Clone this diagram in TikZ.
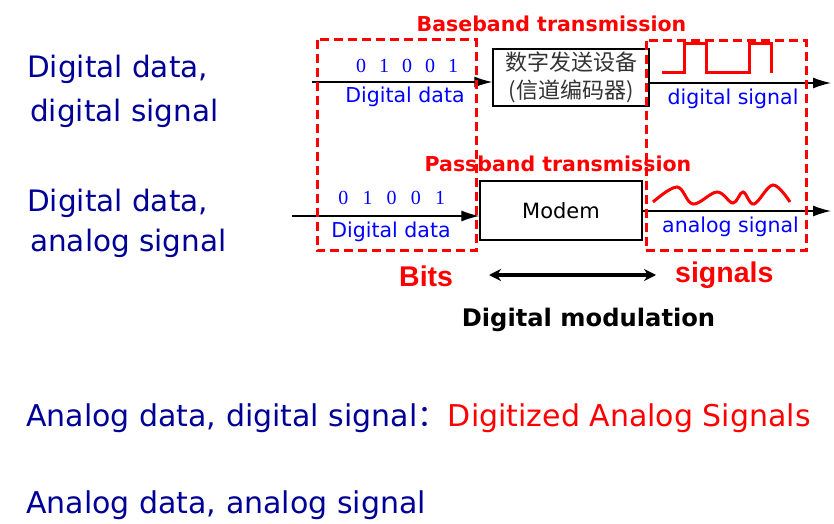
\documentclass[tikz,border=0pt]{standalone}
\usepackage{fontspec}
\setmainfont{DejaVu Sans}
\newfontfamily\serifdigits{Liberation Serif}
\newfontfamily\arialfont{Liberation Sans}
\newfontfamily\cjk{Noto Sans CJK SC}
\usepackage{tikz}
\usetikzlibrary{arrows.meta, positioning}
\definecolor{navytext}{RGB}{0,0,150}
\definecolor{labelblue}{RGB}{0,0,255}
\definecolor{alertred}{RGB}{255,0,0}
\tikzset{
	lefttext/.style={font=\fontsize{29.5bp}{35bp}\selectfont, text=navytext, anchor=base west, inner sep=0pt}
}
\tikzset{
	bottomtext/.style={font=\fontsize{30bp}{36bp}\selectfont, text=navytext, anchor=base west, inner sep=0pt}
}
\tikzset{
	bluelabel/.style={font=\fontsize{20.5bp}{24bp}\selectfont, text=labelblue, anchor=base, inner sep=0pt}
}
\tikzset{
	bitlabel/.style={font=\serifdigits\fontsize{20bp}{22bp}\selectfont, text=labelblue, anchor=base, inner sep=0pt}
}
\tikzset{
	redhead/.style={font=\bfseries\fontsize{20.5bp}{24bp}\selectfont, text=alertred, anchor=base, inner sep=0pt}
}
\tikzset{
	redbig/.style={font=\arialfont\bfseries\fontsize{28.5bp}{32bp}\selectfont, text=alertred, anchor=base west, inner sep=0pt}
}
\tikzset{
	devicebox/.style={draw, line width=1.4bp, fill=white, inner sep=0pt}
}
\tikzset{
	dashbox/.style={draw=alertred, line width=3bp, dash pattern=on 9bp off 5bp}
}
\tikzset{
	wire/.style={line width=1.3bp, -{Latex[length=18bp,width=11bp]}}
}
\tikzset{
	redwave/.style={draw=alertred, line width=3bp, line join=miter}
}
\tikzset{
	bothway/.style={line width=3.2bp, {Stealth[length=12bp,width=12bp]}-{Stealth[length=12bp,width=12bp]}}
}

\begin{document}
\begin{tikzpicture}[x=1bp, y=-1bp]

	\useasboundingbox (0,0) rectangle (834,524);

	\begin{scope}
		\node[lefttext] (ddA) at (27,78) {Digital data,};
		\node[lefttext] (dsA) at (30,122) {digital signal};
		\node[lefttext] (ddB) at (27,212) {Digital data,};
		\node[lefttext] (asB) at (30,252) {analog signal};
	\end{scope}

	\begin{scope}
		\node[redhead] (baseband) at (551.5,32) {Baseband transmission};

		\node[devicebox, minimum width=156bp, minimum height=57bp,
			font=\cjk\fontsize{22bp}{27.5bp}\selectfont, text=black!80, align=center]
			(encoder) at (571,77.5) {数字发送设备\\(信道编码器)};

		\foreach \b [count=\i from 0] in {0,1,0,0,1}
			\node[bitlabel] (bitA\i) at ({361+23*\i},72.5) {\b};

		\node[bluelabel] (dlabA) at (405,103) {Digital data};
		\node[bluelabel] (slabA) at (733,105) {digital signal};

		\coordinate (inA) at (312,82);
		\coordinate (outA) at (831,83);
		\draw[wire] (inA) -- (inA -| encoder.west);
		\draw[wire] (encoder.east |- outA) -- (outA);

		\draw[redwave] (662,73) -- (684,73) -- (684,44) -- (706,44) -- (706,73)
			-- (749,73) -- (749,44) -- (771,44) -- (771,73);
	\end{scope}

	\begin{scope}
		\node[redhead] (passband) at (558,172) {Passband transmission};

		\node[devicebox, minimum width=162bp, minimum height=59bp,
			font=\fontsize{21bp}{25bp}\selectfont] (modem) at (561,210.5) {Modem};

		\foreach \b [count=\i from 0] in {0,1,0,0,1}
			\node[bitlabel] (bitB\i) at ({343.3+24.2*\i},205) {\b};

		\node[bluelabel] (dlabB) at (391,237.5) {Digital data};
		\node[bluelabel] (slabB) at (730.5,233) {analog signal};

		\coordinate (inB) at (292,216);
		\coordinate (outB) at (831,211);
		\draw[wire] (inB) -- (inB -| modem.west);
		\draw[wire] (modem.east |- outB) -- (outB);

		\draw[redwave] plot[smooth, tension=0.6] coordinates {(653,202) (677,187) (693,204)
			(717,192) (733,203) (743,192) (754,204) (773,185) (790,202)};
	\end{scope}

	\draw[dashbox] (317,40) rectangle (476,251);
	\draw[dashbox] (646,41) rectangle (806,251);

	\begin{scope}
		\node[redbig] (bits) at (399,287) {Bits};
		\node[redbig] (sigs) at (675,283) {signals};
		\coordinate (modL) at (489,275);
		\coordinate (modR) at (656,275);
		\draw[bothway] (modL) -- (modR);
		\node[redhead, text=black, font=\bfseries\fontsize{24.2bp}{28bp}\selectfont]
			(dmod) at (588.5,327) {Digital modulation};
	\end{scope}

	\begin{scope}
		\node[bottomtext] (adds) at (26,426) {Analog data, digital signal{\cjk ：}};
		\node[bottomtext, text=alertred] (digas) at (adds.base east) {Digitized Analog Signals};
		\node[bottomtext] (adas) at (26,513) {Analog data, analog signal};
	\end{scope}

\end{tikzpicture}
\end{document}
